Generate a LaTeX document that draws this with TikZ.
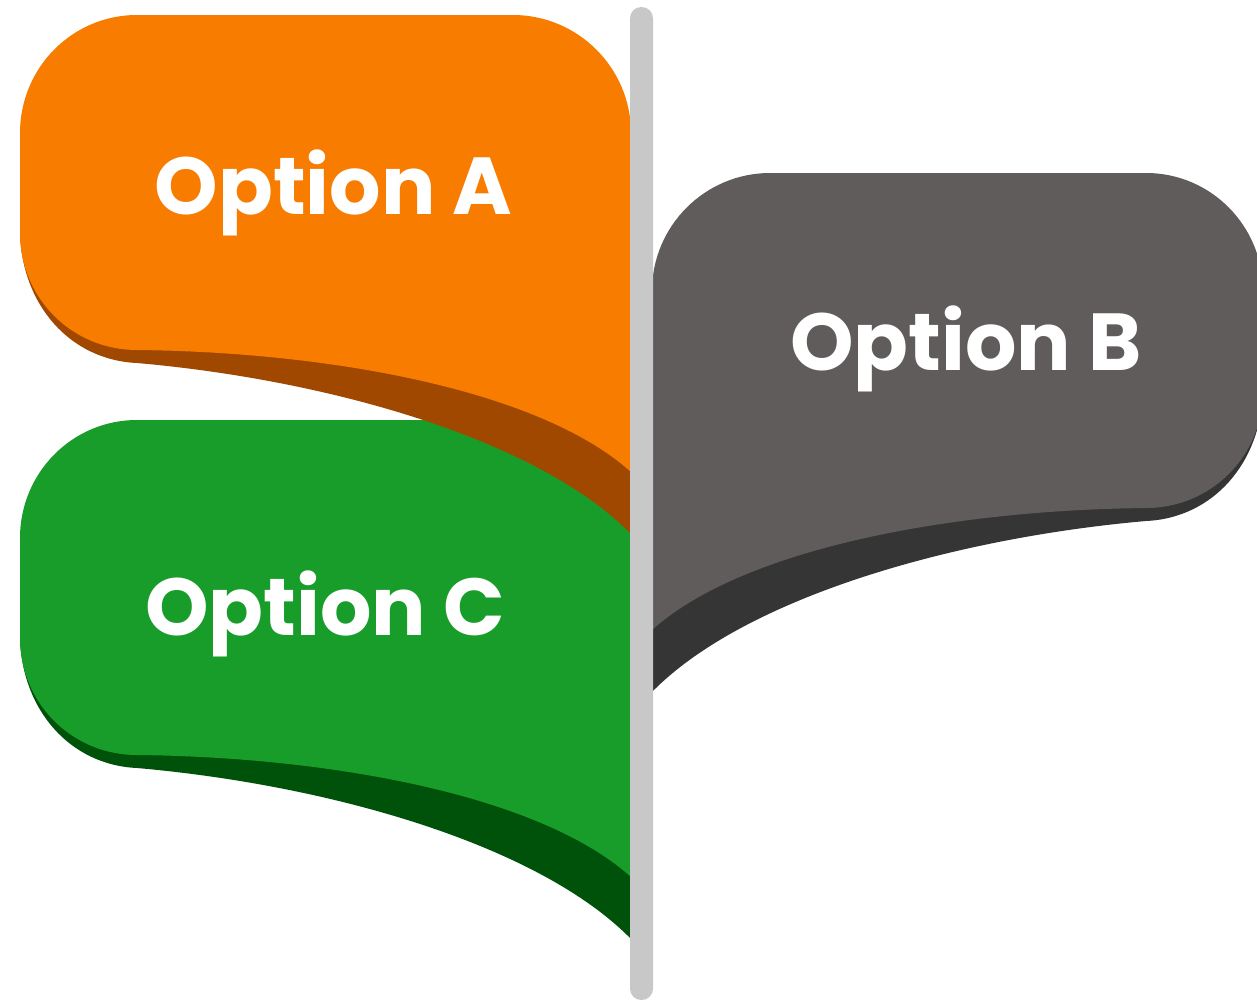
\documentclass[tikz,border=0pt]{standalone}
\usepackage{fontspec}
\setmainfont{Poppins}
\definecolor{flagA}{HTML}{F77C00}
\definecolor{shadeA}{HTML}{A04800}
\definecolor{flagB}{HTML}{605C5B}
\definecolor{shadeB}{HTML}{363535}
\definecolor{flagC}{HTML}{189D2A}
\definecolor{shadeC}{HTML}{00520A}
\definecolor{poleC}{HTML}{C8C8C8}
\begin{document}
\begin{tikzpicture}[x=0.02cm,y=-0.02cm,
  lbl/.style={text=white, font=\fontsize{46}{50}\selectfont\bfseries, anchor=base, inner sep=0pt}]
\useasboundingbox (0,0) rectangle (1257,1001);
% ---------- Option C (green), drawn first ----------
\begin{scope}[shift={(0,405)}]
  \fill[shadeC] (20,233) .. controls (22,305) and (70,360) .. (137,363)
     .. controls (330,380) and (540,440) .. (632,535) -- (632,300) -- (20,200) -- cycle;
  \fill[flagC] (137,15) -- (631,15) -- (631,472)
     .. controls (540,390) and (330,352) .. (137,350)
     .. controls (72,350) and (20,298) .. (20,233) -- (20,133)
     .. controls (20,68) and (72,15) .. (137,15) -- cycle;
\end{scope}
% ---------- Option A (orange) ----------
\fill[shadeA] (20,233) .. controls (22,305) and (70,360) .. (137,363)
   .. controls (330,380) and (540,440) .. (632,535) -- (632,300) -- (20,200) -- cycle;
\fill[flagA] (137,15) -- (513,15) .. controls (578,15) and (631,68) .. (631,133) -- (631,472)
   .. controls (540,390) and (330,352) .. (137,350)
   .. controls (72,350) and (20,298) .. (20,233) -- (20,133)
   .. controls (20,68) and (72,15) .. (137,15) -- cycle;
% ---------- Option B (grey) ----------
\fill[shadeB] (1263,391) .. controls (1261,463) and (1213,518) .. (1146,521)
   .. controls (953,538) and (743,598) .. (651,693) -- (651,458) -- (1263,358) -- cycle;
\fill[flagB] (1146,173) -- (770,173) .. controls (705,173) and (652,226) .. (652,291) -- (652,630)
   .. controls (743,548) and (953,510) .. (1146,508)
   .. controls (1211,508) and (1263,456) .. (1263,391) -- (1263,291)
   .. controls (1263,226) and (1211,173) .. (1146,173) -- cycle;
% ---------- pole ----------
\fill[poleC, rounded corners=6.4pt] (630,7) rectangle (653,1000);
% ---------- labels ----------
\node[lbl] (labelA) at (333.5,214) {Option A};
\node[lbl] (labelB) at (966,370) {Option B};
\node[lbl] (labelC) at (325,635) {Option C};
\end{tikzpicture}
\end{document}
